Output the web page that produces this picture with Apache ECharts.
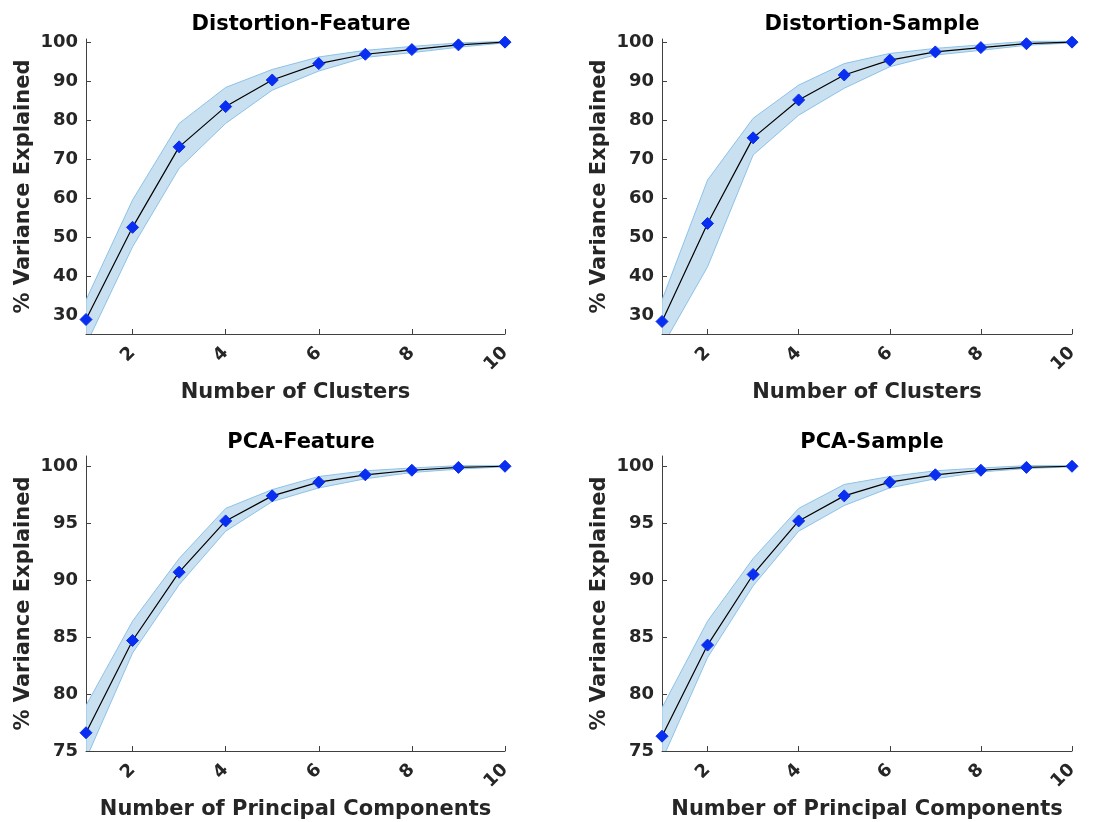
<!DOCTYPE html>
<html>
<head>
<meta charset="utf-8">
<script src="https://cdn.jsdelivr.net/npm/echarts@6/dist/echarts.min.js"></script>
<style>
  html, body { margin: 0; padding: 0; background: #fff; }
  #main { width: 1094px; height: 822px; }
</style>
</head>
<body>
<div id="main"></div>
<script>
// x values (number of clusters / components)
var xs = [1, 2, 3, 4, 5, 6, 7, 8, 9, 10];

// Distortion-Feature
var distFeatMean  = [29.0, 52.6, 73.2, 83.5, 90.3, 94.5, 96.9, 98.1, 99.3, 100.0];
var distFeatUpper = [34.0, 59.6, 79.2, 88.4, 93.0, 96.2, 97.9, 98.9, 99.8, 100.2];
var distFeatLower = [22.5, 47.6, 67.7, 79.2, 87.7, 92.6, 96.1, 97.3, 98.7, 99.8];

// Distortion-Sample
var distSampMean  = [28.5, 53.6, 75.5, 85.2, 91.6, 95.4, 97.5, 98.6, 99.6, 100.0];
var distSampUpper = [34.0, 64.7, 80.5, 89.0, 94.5, 97.1, 98.4, 99.3, 100.2, 100.2];
var distSampLower = [22.0, 42.5, 71.1, 81.3, 88.2, 93.7, 96.7, 97.9, 99.2, 99.8];

// PCA-Feature
var pcaFeatMean  = [76.6, 84.7, 90.7, 95.2, 97.4, 98.6, 99.25, 99.65, 99.9, 100.0];
var pcaFeatUpper = [79.0, 86.4, 91.9, 96.3, 97.95, 99.1, 99.6, 99.85, 100.05, 100.05];
var pcaFeatLower = [74.3, 83.6, 89.6, 94.3, 96.9, 98.1, 98.9, 99.45, 99.75, 99.95];

// PCA-Sample
var pcaSampMean  = [76.3, 84.3, 90.5, 95.2, 97.4, 98.6, 99.25, 99.65, 99.9, 100.0];
var pcaSampUpper = [78.8, 86.4, 91.9, 96.3, 98.4, 99.1, 99.6, 99.85, 100.05, 100.05];
var pcaSampLower = [74.2, 83.2, 89.5, 94.3, 96.55, 98.1, 98.9, 99.5, 99.8, 99.95];

var distTicks = [30, 40, 50, 60, 70, 80, 90, 100];
var pcaTicks = [75, 80, 85, 90, 95, 100];
var xTicks = [2, 4, 6, 8, 10];

var FONT = 'DejaVu Sans';
var TXT = '#262626';
var AX = '#404040';
var BAND = '#c9e0f1';
var BAND_EDGE = '#8cc2e8';

var panels = [
    {title: 'Distortion-Feature', xname: 'Number of Clusters', mean: distFeatMean, up: distFeatUpper, lo: distFeatLower,
     ticks: distTicks, min: 25.3, max: 100.8, grid: {left: 86, top: 39, width: 419, height: 295}, cx: 296, ty: 9},
    {title: 'Distortion-Sample', xname: 'Number of Clusters', mean: distSampMean, up: distSampUpper, lo: distSampLower,
     ticks: distTicks, min: 25.3, max: 100.8, grid: {left: 662, top: 39, width: 410, height: 295}, cx: 867, ty: 9},
    {title: 'PCA-Feature', xname: 'Number of Principal Components', mean: pcaFeatMean, up: pcaFeatUpper, lo: pcaFeatLower,
     ticks: pcaTicks, min: 75, max: 100.9, grid: {left: 86, top: 456, width: 419, height: 295}, cx: 296, ty: 427},
    {title: 'PCA-Sample', xname: 'Number of Principal Components', mean: pcaSampMean, up: pcaSampUpper, lo: pcaSampLower,
     ticks: pcaTicks, min: 75, max: 100.9, grid: {left: 662, top: 456, width: 410, height: 295}, cx: 867, ty: 427}
];

function pairs(a) {
    var out = [];
    for (var i = 0; i < xs.length; i++) {
        out.push([xs[i], a[i]]);
    }
    return out;
}

// band polygon: upper bound left->right, then lower bound right->left
function bandRender(up, lo) {
    return function (params, api) {
        var pts = [];
        for (var i = 0; i < xs.length; i++) {
            pts.push(api.coord([xs[i], up[i]]));
        }
        for (var j = xs.length - 1; j >= 0; j--) {
            pts.push(api.coord([xs[j], lo[j]]));
        }
        var cs = params.coordSys;
        return {
            type: 'polygon',
            shape: {points: pts},
            style: {fill: BAND, stroke: BAND_EDGE, lineWidth: 1},
            clipPath: {type: 'rect', shape: {x: cs.x, y: cs.y, width: cs.width, height: cs.height}}
        };
    };
}

var option = {
    backgroundColor: '#fff',
    animation: false,
    title: [], grid: [], xAxis: [], yAxis: [], series: []
};

for (var p = 0; p < panels.length; p++) {
    var pn = panels[p];
    option.title.push({
        text: pn.title, left: pn.cx, top: pn.ty, textAlign: 'center',
        textStyle: {fontFamily: FONT, fontSize: 21, fontWeight: 'bold', color: '#000'}
    });
    option.grid.push(pn.grid);
    option.xAxis.push({
        type: 'value', gridIndex: p, min: 1, max: 10,
        name: pn.xname, nameLocation: 'middle', nameGap: 48,
        nameTextStyle: {fontFamily: FONT, fontSize: 21, fontWeight: 'bold', color: TXT},
        axisLine: {onZero: false, lineStyle: {color: AX, width: 1}},
        axisTick: {inside: true, length: 5, customValues: xTicks, lineStyle: {color: AX}},
        axisLabel: {customValues: xTicks, rotate: 45, margin: 16, fontFamily: FONT, fontSize: 18, fontWeight: 'bold', color: TXT},
        splitLine: {show: false}
    });
    option.yAxis.push({
        type: 'value', gridIndex: p, min: pn.min, max: pn.max,
        name: '% Variance Explained', nameLocation: 'middle', nameGap: 52, nameRotate: 90,
        nameTextStyle: {fontFamily: FONT, fontSize: 21, fontWeight: 'bold', color: TXT},
        axisLine: {show: true, onZero: false, lineStyle: {color: AX, width: 1}},
        axisTick: {show: true, inside: true, length: 5, customValues: pn.ticks, lineStyle: {color: AX}},
        axisLabel: {customValues: pn.ticks, margin: 8, fontFamily: FONT, fontSize: 18, fontWeight: 'bold', color: TXT},
        splitLine: {show: false}
    });
    // shaded band (mean +/- spread)
    option.series.push({
        type: 'custom', xAxisIndex: p, yAxisIndex: p, silent: true,
        data: [[1, pn.min]],
        renderItem: bandRender(pn.up, pn.lo),
        z: 1
    });
    // mean line with markers
    option.series.push({
        type: 'line', xAxisIndex: p, yAxisIndex: p,
        data: pairs(pn.mean), symbol: 'diamond', symbolSize: 12,
        lineStyle: {color: '#000', width: 1.2},
        itemStyle: {color: '#0a2ef0', borderColor: '#0a2ef0', borderWidth: 1},
        z: 5
    });
}

var myChart = echarts.init(document.getElementById('main'));
myChart.setOption(option);
</script>
</body>
</html>
